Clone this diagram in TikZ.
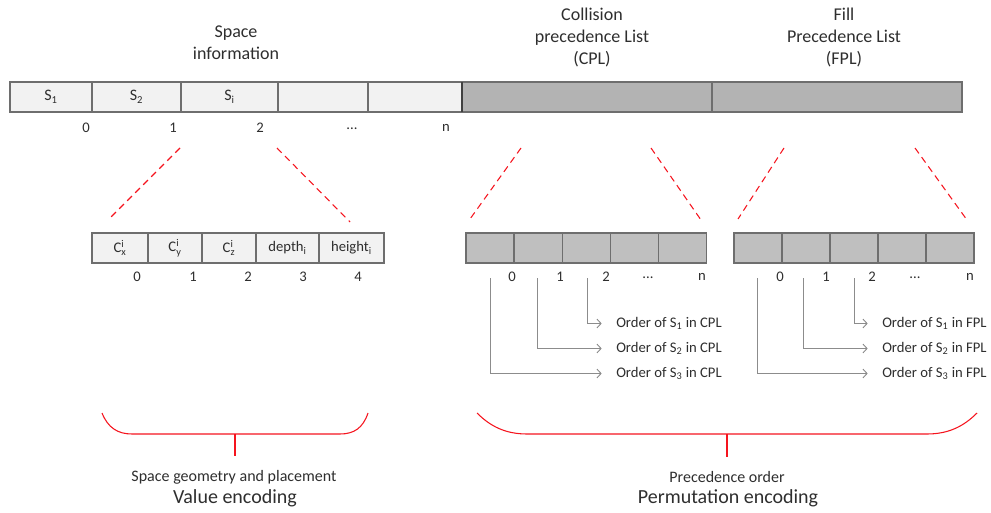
\documentclass[tikz,border=0pt]{standalone}
\usepackage{amsmath}
\usepackage{fontspec}
\setmainfont{Carlito}
\usetikzlibrary{arrows.meta}

\definecolor{cellLight}{HTML}{F2F2F2}
\definecolor{barGray}{HTML}{B3B3B3}
\definecolor{boxGray}{HTML}{BFBFBF}
\definecolor{frameGray}{HTML}{6E6E6E}
\definecolor{lineGray}{HTML}{8C8C8C}
\definecolor{txtGray}{HTML}{2E2E2E}
\definecolor{braceRed}{HTML}{F5141E}

\begin{document}
\begin{tikzpicture}[x=0.75pt,y=0.75pt,yscale=-1,xscale=1,
  every node/.style={text=txtGray},
  cell/.style={draw=frameGray, line width=0.8pt, outer sep=0pt, inner sep=0pt, anchor=north west, minimum height=22.5pt},
  lightcell/.style={cell, fill=cellLight},
  graycell/.style={cell, fill=barGray},
  darkcell/.style={cell, fill=boxGray, minimum width=36pt},
  idx/.style={font=\fontsize{11}{12}\selectfont, inner sep=0.75pt},
  head/.style={align=center, font=\fontsize{13.5}{16.5}\selectfont},
  reddash/.style={draw=braceRed, line width=0.8pt, dash pattern=on 5pt off 3.5pt},
  brace/.style={draw=braceRed, line width=0.8pt},
  ordarrow/.style={draw=lineGray, line width=0.7pt, -{Straight Barb[length=3pt,width=6.5pt]}, shorten >=10pt},
  ordtext/.style={anchor=west, inner sep=0.75pt, font=\fontsize{11}{13}\selectfont}
]
\path[use as bounding box] (0,0) rectangle (991,513);

% Text Node
\node[head] (spaceinfo) at (236,42.5) {Space\\information};
% Text Node
\node[head] (cplhead) at (592,38) {Collision\\precedence List\\(CPL)};
% Text Node
\node[head] (fplhead) at (844,38) {Fill\\Precedence List\\(FPL)};

%Shape: top bar
\node[lightcell, minimum width=61.5pt, font=\fontsize{12}{13}\selectfont] (s1) at (10,82) {S$_{\text{1}}$};
\node[lightcell, minimum width=66.75pt, font=\fontsize{12}{13}\selectfont] (s2) at (92,82) {S$_{\text{2}}$};
\node[lightcell, minimum width=72.75pt, font=\fontsize{12}{13}\selectfont] (si) at (181,82) {S$_{\text{i}}$};
\node[lightcell, minimum width=67.5pt] (s4) at (278,82) {};
\node[lightcell, minimum width=70.5pt] (s5) at (368,82) {};
\node[graycell, minimum width=187.5pt] (cplbar) at (462,82) {};
\node[graycell, minimum width=187.5pt] (fplbar) at (712,82) {};
%Straight Lines: separator
\draw[line width=1.6pt, draw=black!75] (cplbar.north west) -- (cplbar.south west);

% Text Node
\node[idx] (t0) at (86,128) {0};
\node[idx] (t1) at (173,128) {1};
\node[idx] (t2) at (260,128) {2};
\node[idx] (t3) at (352,129) {...};
\node[idx] (t4) at (446,128) {n};

%Straight Lines: dashed zoom lines
\coordinate (zl1) at (180,148);
\coordinate (zl2) at (108,220);
\coordinate (zr1) at (277,148);
\coordinate (zr2) at (350,222);
\coordinate (zc1) at (521,148);
\coordinate (zc2) at (470,219);
\coordinate (zc3) at (651,148);
\coordinate (zc4) at (701,220);
\coordinate (zf1) at (784,148);
\coordinate (zf2) at (738,219);
\coordinate (zf3) at (915,148);
\coordinate (zf4) at (967,220);
\draw[reddash] (zl1) -- (zl2);
\draw[reddash] (zr1) -- (zr2);
\draw[reddash] (zc1) -- (zc2);
\draw[reddash] (zc3) -- (zc4);
\draw[reddash] (zf1) -- (zf2);
\draw[reddash] (zf3) -- (zf4);

%Shape: space box
\node[lightcell, minimum width=42pt, font=\fontsize{11}{12}\selectfont] (cx) at (92,233) {C$^{\text{i}}_{\text{x}}$};
\node[lightcell, minimum width=40.5pt, font=\fontsize{11}{12}\selectfont] (cy) at (148,233) {C$^{\text{i}}_{\text{y}}$};
\node[lightcell, minimum width=40.5pt, font=\fontsize{11}{12}\selectfont] (cz) at (202,233) {C$^{\text{i}}_{\text{z}}$};
\node[lightcell, minimum width=47.25pt, font=\fontsize{11}{12}\selectfont] (dp) at (256,233) {depth$_{\text{i}}$};
\node[lightcell, minimum width=48.75pt, font=\fontsize{11}{12}\selectfont] (ht) at (319,233) {height$_{\text{i}}$};

% Text Node
\node[idx] (g0) at (137,277) {0};
\node[idx] (g1) at (193,277) {1};
\node[idx] (g2) at (248,277) {2};
\node[idx] (g3) at (303,277) {3};
\node[idx] (g4) at (358,277) {4};

%Shape: CPL and FPL boxes
\foreach \i in {0,...,4} {
  \node[darkcell] (c\i) at (466+\i*48.2,233) {};
  \node[darkcell] (f\i) at (734+\i*48,233) {};
}

% Text Node
\node[idx] (ci0) at (512,277) {0};
\node[idx] (ci1) at (560,277) {1};
\node[idx] (ci2) at (606,277) {2};
\node[idx] (ci3) at (648,278) {...};
\node[idx] (ci4) at (702,277) {n};
\node[idx] (fi0) at (780,277) {0};
\node[idx] (fi1) at (826,277) {1};
\node[idx] (fi2) at (872,277) {2};
\node[idx] (fi3) at (915,278) {...};
\node[idx] (fi4) at (970,277) {n};

% Text Node
\node[ordtext] (oc1) at (615,323.5) {Order of S$_{\text{1}}$ in CPL};
\node[ordtext] (oc2) at (615,348.5) {Order of S$_{\text{2}}$ in CPL};
\node[ordtext] (oc3) at (615,373.5) {Order of S$_{\text{3}}$ in CPL};
\node[ordtext] (of1) at (881,323.5) {Order of S$_{\text{1}}$ in FPL};
\node[ordtext] (of2) at (881,348.5) {Order of S$_{\text{2}}$ in FPL};
\node[ordtext] (of3) at (881,373.5) {Order of S$_{\text{3}}$ in FPL};

%Straight Lines: order arrows
\coordinate (ac1) at (587,278);
\coordinate (ac2) at (537,278);
\coordinate (ac3) at (490,278);
\coordinate (af1) at (854,278);
\coordinate (af2) at (803,278);
\coordinate (af3) at (757,278);
\draw[ordarrow] (ac1) |- (oc1.west);
\draw[ordarrow] (ac2) |- (oc2.west);
\draw[ordarrow] (ac3) |- (oc3.west);
\draw[ordarrow] (af1) |- (of1.west);
\draw[ordarrow] (af2) |- (of2.west);
\draw[ordarrow] (af3) |- (of3.west);

%Shape: braces
\draw[brace] (102,413) .. controls (108,428) and (118,434) .. (132,434) -- (340,434) .. controls (354,434) and (363,428) .. (368,413);
\draw[brace] (235,434) -- (235,456);
\draw[brace] (477,413) .. controls (490,426) and (505,434) .. (527,434) -- (927,434) .. controls (949,434) and (964,426) .. (977,413);
\draw[brace] (727,434) -- (727,457);

% Text Node
\node[font=\fontsize{12}{14}\selectfont] (geo) at (234,477) {Space geometry and placement};
\node[font=\fontsize{15}{17}\selectfont] (valenc) at (235,498) {Value encoding};
\node[font=\fontsize{12}{14}\selectfont] (prec) at (727,477) {Precedence order};
\node[font=\fontsize{15}{17}\selectfont] (permenc) at (728,498) {Permutation encoding};

\end{tikzpicture}
\end{document}
